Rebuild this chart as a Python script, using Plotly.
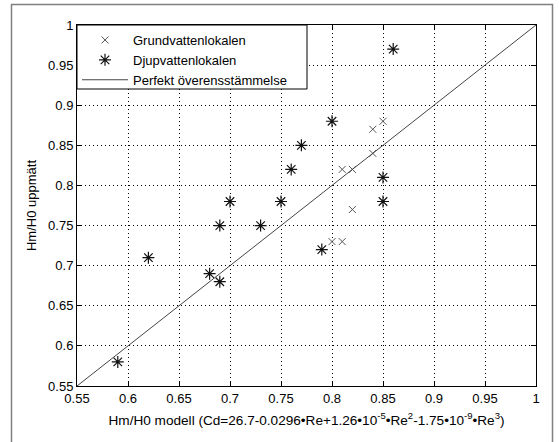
import plotly.graph_objects as go

# Data
grund_x = [0.80, 0.81, 0.81, 0.82, 0.82, 0.84, 0.84, 0.85]
grund_y = [0.73, 0.73, 0.82, 0.82, 0.77, 0.84, 0.87, 0.88]

djup_x = [0.59, 0.62, 0.68, 0.69, 0.69, 0.70, 0.73, 0.75, 0.76, 0.77, 0.79, 0.80, 0.85, 0.85, 0.86]
djup_y = [0.58, 0.71, 0.69, 0.68, 0.75, 0.78, 0.75, 0.78, 0.82, 0.85, 0.72, 0.88, 0.81, 0.78, 0.97]

line_x = [0.55, 1.0]
line_y = [0.55, 1.0]

tick_vals = [0.55, 0.6, 0.65, 0.7, 0.75, 0.8, 0.85, 0.9, 0.95, 1.0]
tick_text = ["0.55", "0.6", "0.65", "0.7", "0.75", "0.8", "0.85", "0.9", "0.95", "1"]

FONT = "Liberation Sans, Arial, sans-serif"

# plot-area geometry (pixels) used to place paper-referenced decorations
L, R, T, B = 77, 536, 25, 386
PW, PH = R - L, B - T


def px(xpix):
    return (xpix - L) / PW


def py(ypix):
    return (B - ypix) / PH


fig = go.Figure()
fig.add_trace(go.Scatter(
    x=grund_x, y=grund_y, mode="markers", name="Grundvattenlokalen",
    marker=dict(symbol="x-thin-open", size=7, color="#555555",
                line=dict(color="#555555", width=1)),
))
fig.add_trace(go.Scatter(
    x=djup_x, y=djup_y, mode="markers", name="Djupvattenlokalen",
    marker=dict(symbol="asterisk-open", size=10, color="#111111",
                line=dict(color="#111111", width=1.2)),
))
fig.add_trace(go.Scatter(
    x=line_x, y=line_y, mode="lines", name="Perfekt överensstämmelse",
    line=dict(color="#444444", width=1),
))

axis_common = dict(
    range=[0.55, 1.0], tickvals=tick_vals, ticktext=tick_text,
    showgrid=True, gridcolor="#000000", gridwidth=1, griddash="1px,3px",
    zeroline=False, showline=True, linecolor="#000000", linewidth=1,
    mirror="ticks", ticks="inside", ticklen=5, tickcolor="#000000",
    tickfont=dict(family=FONT, size=13, color="#000000"),
    automargin=False,
)

fig.update_xaxes(
    **axis_common,
    title=dict(
        text="Hm/H0 modell (Cd=26.7-0.0296•Re+1.26•10<sup>-5</sup>•Re<sup>2</sup>-1.75•10<sup>-9</sup>•Re<sup>3</sup>)",
        font=dict(family=FONT, size=13.6, color="#000000"), standoff=10),
)
fig.update_yaxes(
    **axis_common,
    title=dict(text="Hm/H0 uppmätt",
               font=dict(family=FONT, size=13, color="#000000"), standoff=8),
)

frame_path = "M {x0},{y0} L {x0},{y1} L {x1},{y1} L {x1},{y0}".format(
    x0=px(11.5), x1=px(552.5), y0=py(460), y1=py(4.5))

fig.update_layout(
    width=559, height=442,
    margin=dict(l=L, r=559 - R, t=T, b=442 - B, pad=0),
    paper_bgcolor="#ffffff", plot_bgcolor="#ffffff",
    showlegend=True,
    legend=dict(x=0, y=1, xanchor="left", yanchor="top",
                bgcolor="rgba(0,0,0,0)", borderwidth=0,
                font=dict(family=FONT, size=13, color="#000000"),
                tracegroupgap=0, itemwidth=46),
    shapes=[
        dict(type="path", xref="paper", yref="paper", path=frame_path,
             line=dict(color="#808080", width=1.5), layer="below"),
        # legend box
        dict(type="rect", xref="paper", yref="paper",
             x0=0, x1=px(307), y0=py(89), y1=1,
             fillcolor="#ffffff", line=dict(color="#000000", width=1),
             layer="above"),
    ],
)

fig.write_html("out.html")
